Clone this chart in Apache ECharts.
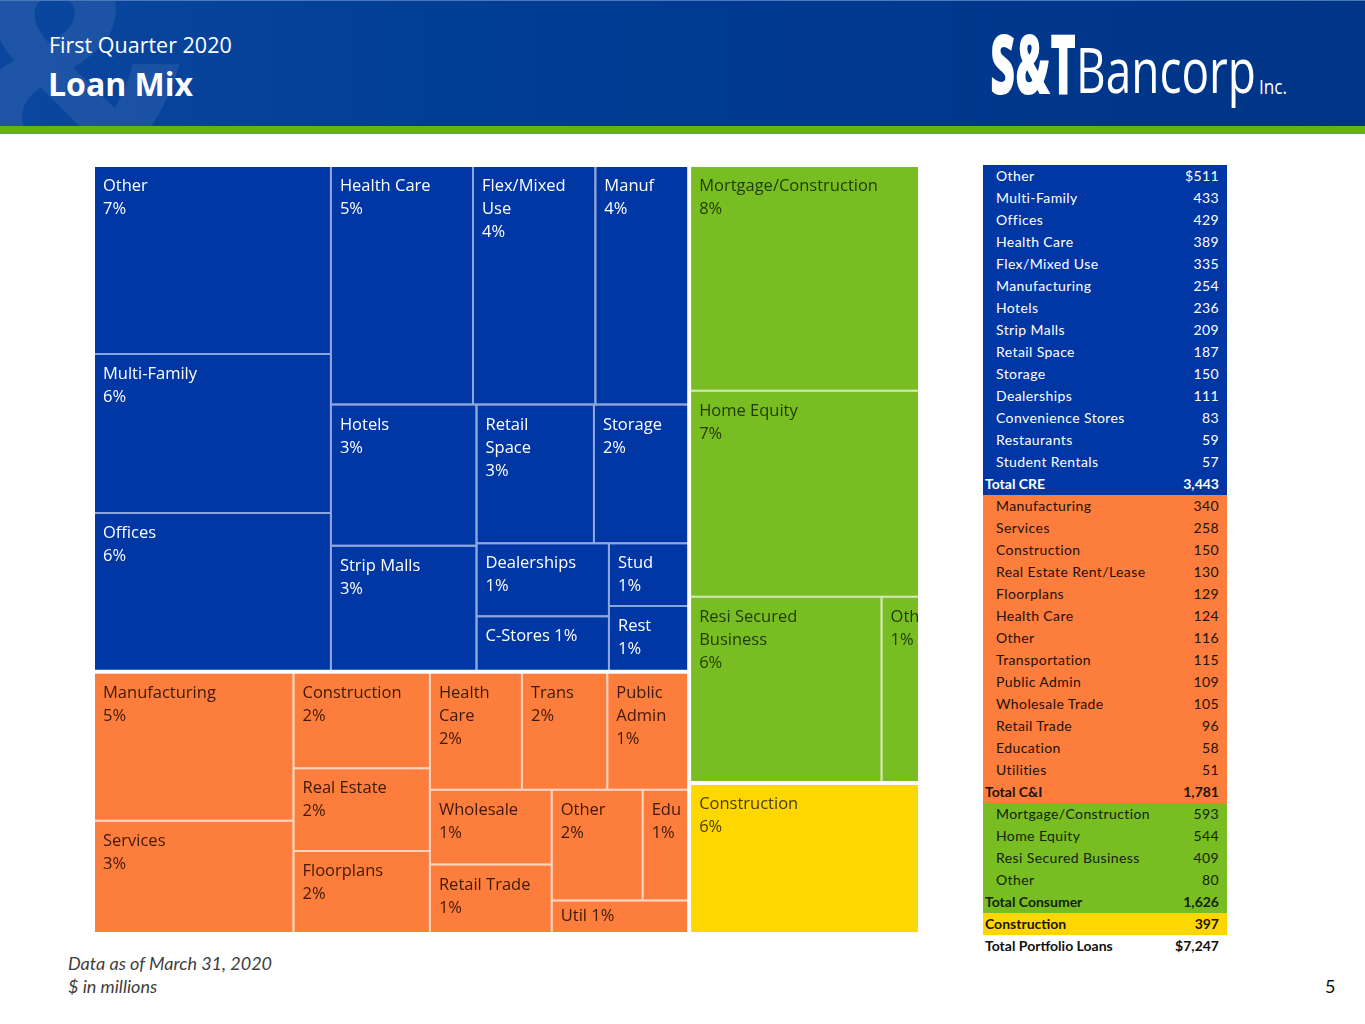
<!DOCTYPE html>
<html>
<head>
<meta charset="utf-8">
<title>Loan Mix</title>
<script src="https://cdn.jsdelivr.net/npm/echarts@6/dist/echarts.min.js"></script>
<style>
  html, body { margin: 0; padding: 0; background: #fff; }
  body { width: 1365px; height: 1024px; position: relative; overflow: hidden; font-family: Lato, "Open Sans", sans-serif; }
  #header {
    position: absolute; left: 0; top: 0; width: 1365px; height: 126px; overflow: hidden;
    background: linear-gradient(90deg, #0c479f 0%, #003d95 35%, #003486 100%);
    border-top: 1px solid #4a78bd; box-sizing: border-box;
  }
  #stripe { position: absolute; left: 0; top: 126px; width: 1365px; height: 8px; background: #65b21d; }
  #amp {
    position: absolute; left: -37px; top: -88px; font: 700 300px "Open Sans", sans-serif;
    color: rgba(255, 255, 255, 0.08); line-height: 1;
  }
  #sub { position: absolute; left: 49px; top: 29px; color: #fff; font: 400 21.5px "Open Sans", sans-serif; }
  #title { position: absolute; left: 48px; top: 61px; color: #fff; font: 700 32px "Open Sans", sans-serif; }
  #logo { position: absolute; left: 0; top: 0; }
  #chart { position: absolute; left: 95px; top: 167px; width: 823px; height: 765px; }
  #table { position: absolute; left: 983px; top: 165px; width: 244px; font: 400 14px Lato, sans-serif; }
  #table .row { height: 22px; line-height: 22px; display: flex; justify-content: space-between;
    padding: 0 8px 0 13px; letter-spacing: 0.4px; }
  #table .tot { font-weight: 700; padding-left: 2px; letter-spacing: 0; }
  #foot { position: absolute; left: 68px; top: 952px; color: #404040; font: italic 400 18px Lato, sans-serif; line-height: 23px; }
  #page { position: absolute; left: 1325px; top: 975px; color: #111; font: 400 18px Lato, sans-serif; }
</style>
</head>
<body>
<div id="header">
  <div id="amp">&amp;</div>
  <div id="sub">First Quarter 2020</div>
  <div id="title">Loan Mix</div>
  <svg id="logo" width="1365" height="126">
    <text x="990" y="93" fill="#fff" font-family="Open Sans" font-weight="800" font-size="84"
      textLength="86" lengthAdjust="spacingAndGlyphs">S&amp;T</text>
    <text x="1076" y="92" fill="#fff" font-family="Open Sans" font-weight="400" font-size="63"
      textLength="180" lengthAdjust="spacingAndGlyphs">Bancorp</text>
    <text x="1259" y="93" fill="#fff" font-family="Open Sans" font-weight="400" font-size="20"
      textLength="28" lengthAdjust="spacingAndGlyphs">Inc.</text>
  </svg>
</div>
<div id="stripe"></div>
<div id="chart"></div>
<div id="table"></div>
<div id="foot">Data as of March 31, 2020<br>$ in millions</div>
<div id="page">5</div>
<script>
// ---- 数据（$ 百万）----
const creNames = ['Other', 'Multi-Family', 'Offices', 'Health Care', 'Flex/Mixed Use', 'Manufacturing', 'Hotels',
  'Strip Malls', 'Retail Space', 'Storage', 'Dealerships', 'Convenience Stores', 'Restaurants', 'Student Rentals']
const creValues = [511, 433, 429, 389, 335, 254, 236, 209, 187, 150, 111, 83, 59, 57]
const creTiles = ['Other', 'Multi-Family', 'Offices', 'Health Care', 'Flex/Mixed\nUse', 'Manuf', 'Hotels',
  'Strip Malls', 'Retail\nSpace', 'Storage', 'Dealerships', 'C-Stores', 'Rest', 'Stud']
const crePcts = ['7%', '6%', '6%', '5%', '4%', '4%', '3%', '3%', '3%', '2%', '1%', '1%', '1%', '1%']

const ciNames = ['Manufacturing', 'Services', 'Construction', 'Real Estate Rent/Lease', 'Floorplans', 'Health Care',
  'Other', 'Transportation', 'Public Admin', 'Wholesale Trade', 'Retail Trade', 'Education', 'Utilities']
const ciValues = [340, 258, 150, 130, 129, 124, 116, 115, 109, 105, 96, 58, 51]
const ciTiles = ['Manufacturing', 'Services', 'Construction', 'Real Estate', 'Floorplans', 'Health\nCare',
  'Other', 'Trans', 'Public\nAdmin', 'Wholesale', 'Retail Trade', 'Edu', 'Util']
const ciPcts = ['5%', '3%', '2%', '2%', '2%', '2%', '2%', '2%', '1%', '1%', '1%', '1%', '1%']

const conNames = ['Mortgage/Construction', 'Home Equity', 'Resi Secured Business', 'Other']
const conValues = [593, 544, 409, 80]
const conTiles = ['Mortgage/Construction', 'Home Equity', 'Resi Secured\nBusiness', 'Oth']
const conPcts = ['8%', '7%', '6%', '1%']

const constructionName = 'Construction'
const constructionValue = 397
const constructionPct = '6%'

// ---- 版式 ----
const BLUE = '#0037a4', ORANGE = '#fd7d3d', GREEN = '#78bd22', YELLOW = '#ffd700'
const inlinePct = ['C-Stores', 'Util']              // 名称与百分比同一行
const tightLabel = ['Util']                         // 矮格子，标签上边距收小
const creOrder = [0, 1, 2, 3, 4, 5, 6, 7, 8, 9, 10, 11, 13, 12]
const ciOrder = [0, 1, 2, 3, 4, 5, 7, 8, 9, 10, 6, 11, 12]
const conOrder = [0, 1, 2, 3]

const sum = arr => arr.reduce((a, b) => a + b, 0)
const fmt = v => v.toLocaleString('en-US')

function leaves(tiles, values, pcts, order, textColor) {
  return order.map(i => {
    const label = { color: textColor }
    if (tightLabel.includes(tiles[i])) label.padding = [3, 4, 0, 8]
    return { name: tiles[i], value: values[i], pct: pcts[i], label }
  })
}

function segment(name, children, color, lineColor) {
  return {
    name,
    value: sum(children.map(c => c.value)),
    itemStyle: { color, borderColor: lineColor },
    children: children.map(c => ({ ...c, itemStyle: { color } }))
  }
}

const treeData = [
  segment('CRE', leaves(creTiles, creValues, crePcts, creOrder, '#ffffff'), BLUE, '#8ea6de'),
  segment('C&I', leaves(ciTiles, ciValues, ciPcts, ciOrder, '#3c1a06'), ORANGE, '#ffd3bd'),
  segment('Consumer', leaves(conTiles, conValues, conPcts, conOrder, '#1f3a02'), GREEN, '#cfe8ac'),
  segment('Construction', [{ name: constructionName, value: constructionValue, pct: constructionPct,
    label: { color: '#4a3c00' } }], YELLOW, '#fff1a0')
]

const chart = echarts.init(document.getElementById('chart'))
chart.setOption({
  animation: false,
  textStyle: { fontFamily: 'Open Sans' },
  series: [{
    type: 'treemap',
    left: 0, top: 0, right: 0, bottom: 0,
    roam: false,
    nodeClick: false,
    sort: false,
    squareRatio: 1.57,
    breadcrumb: { show: false },
    levels: [
      { itemStyle: { borderWidth: 0, gapWidth: 4, borderColor: '#ffffff' } },
      { itemStyle: { borderWidth: 0, gapWidth: 2 }, upperLabel: { show: false } },
      { itemStyle: { borderWidth: 0, gapWidth: 0 } }
    ],
    label: {
      show: true,
      position: 'insideTopLeft',
      padding: [8, 4, 0, 8],
      fontSize: 16.5,
      lineHeight: 23,
      fontFamily: 'Open Sans',
      overflow: 'none',
      formatter: p => {
        const sep = inlinePct.includes(p.name) ? ' ' : '\n'
        return p.name + sep + p.data.pct
      }
    },
    data: treeData
  }]
})

// ---- 右侧明细表 ----
const table = document.getElementById('table')
function addRow(name, value, bg, color, isTotal) {
  const row = document.createElement('div')
  row.className = 'row' + (isTotal ? ' tot' : '')
  if (bg) row.style.background = bg
  row.style.color = color
  row.innerHTML = '<span>' + name + '</span><span>' + value + '</span>'
  table.appendChild(row)
}
creNames.forEach((n, i) => addRow(n, (i === 0 ? '$' : '') + fmt(creValues[i]), BLUE, '#fff', false))
addRow('Total CRE', fmt(sum(creValues)), BLUE, '#fff', true)
ciNames.forEach((n, i) => addRow(n, fmt(ciValues[i]), ORANGE, '#1e1208', false))
addRow('Total C&amp;I', fmt(sum(ciValues)), ORANGE, '#1e1208', true)
conNames.forEach((n, i) => addRow(n, fmt(conValues[i]), GREEN, '#14220a', false))
addRow('Total Consumer', fmt(sum(conValues)), GREEN, '#14220a', true)
addRow(constructionName, fmt(constructionValue), YELLOW, '#1a1500', true)
addRow('Total Portfolio Loans', '$' + fmt(sum(creValues) + sum(ciValues) + sum(conValues) + constructionValue),
  null, '#111', true)
</script>
</body>
</html>
